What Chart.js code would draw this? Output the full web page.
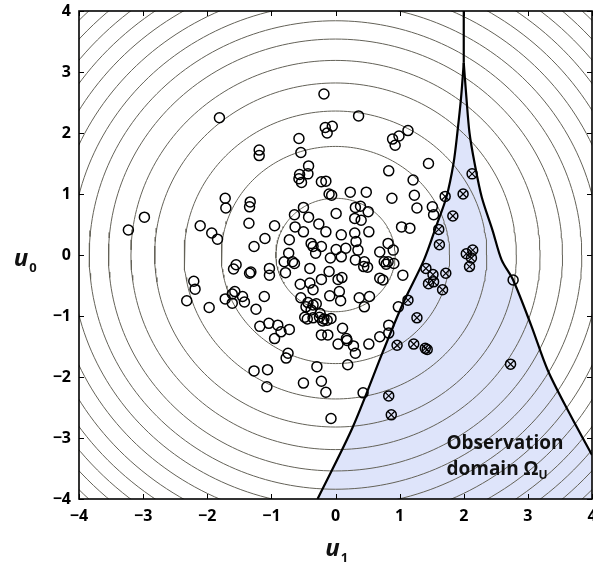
<!DOCTYPE html>
<html>
<head>
<meta charset="utf-8">
<script src="https://cdn.jsdelivr.net/npm/chart.js@4.4.0/dist/chart.umd.min.js"></script>
<style>
  html, body { margin: 0; padding: 0; background: #fff; }
</style>
</head>
<body>
<canvas id="chart" width="593" height="569"></canvas>
<script>
// axis ticks (both axes)
const tickValues = [-4, -3, -2, -1, 0, 1, 2, 3, 4];

// radii of the density contours (data units)
const contourRadii = [0.93, 1.78, 2.36, 2.82, 3.19, 3.54, 3.84, 4.12, 4.39, 4.65, 4.89, 5.12, 5.34, 5.55];

// samples outside the observation domain [u1, u0]
const samples = [
  [-0.18,2.64],[-1.81,2.25],[0.36,2.28],[-0.16,2.09],[-0.05,2.11],[-0.13,2.0],[-0.57,1.91],
  [0.89,1.90],[0.99,1.95],[1.13,2.04],[0.93,1.80],[-1.19,1.72],[-1.19,1.63],[-0.54,1.68],
  [1.45,1.50],[-0.42,1.46],[0.83,1.38],[-0.56,1.32],[-0.43,1.33],[-0.53,1.19],[-0.57,1.25],
  [1.21,1.23],[-0.22,1.20],[-0.15,1.21],[-0.10,1.00],[-0.06,0.98],[0.23,1.03],[0.48,1.03],
  [0.88,0.93],[1.23,0.98],[-1.72,0.93],[-1.71,0.77],[-1.33,0.87],[-1.34,0.79],[1.27,0.77],
  [1.51,0.79],[1.53,0.66],[-0.50,0.78],[-0.64,0.66],[-0.42,0.62],[0.01,0.68],[0.31,0.78],
  [0.30,0.60],[0.39,0.80],[0.51,0.71],[0.40,0.57],[-1.35,0.52],[-0.95,0.48],[-1.10,0.27],
  [-1.27,0.14],[-2.11,0.48],[-1.93,0.36],[-1.84,0.26],[-2.98,0.62],[-3.23,0.41],[-0.63,0.46],
  [-0.50,0.38],[-0.26,0.51],[-0.15,0.38],[0.09,0.33],[0.30,0.36],[0.52,0.38],[1.03,0.46],
  [1.16,0.44],[-0.72,0.25],[-0.38,0.19],[-0.35,0.14],[-0.22,0.14],[-0.31,0.03],[0.01,0.09],
  [0.16,0.11],[0.35,0.08],[0.32,0.22],[0.69,0.05],[0.82,0.19],[0.90,0.08],[-0.73,0.03],
  [-0.80,-0.11],[-0.67,-0.11],[-0.64,-0.14],[-0.78,-0.29],[-0.08,-0.05],[0.09,-0.03],[0.31,-0.08],
  [0.45,-0.11],[0.44,-0.19],[0.50,-0.20],[0.76,-0.11],[0.79,-0.15],[0.82,-0.11],[0.91,-0.14],
  [-0.40,-0.22],[-0.10,-0.27],[-0.22,-0.40],[0.04,-0.40],[0.10,-0.37],[0.69,-0.38],[0.74,-0.41],
  [1.05,-0.33],[-1.59,-0.23],[-1.55,-0.16],[-1.34,-0.30],[-1.32,-0.28],[-1.03,-0.22],[-1.03,-0.33],
  [-0.55,-0.48],[-0.40,-0.46],[-0.35,-0.57],[-0.09,-0.67],[0.06,-0.60],[0.08,-0.75],[-0.54,-0.70],
  [0.37,-0.70],[0.53,-0.68],[0.45,-0.85],[-0.46,-0.85],[-0.35,-0.82],[-0.38,-0.90],[-0.43,-0.78],
  [-0.30,-0.80],[0.98,-0.85],[-1.11,-0.68],[-1.45,-0.68],[-1.42,-0.77],[-1.24,-0.89],[-1.72,-0.72],
  [-1.61,-0.79],[-1.57,-0.60],[-1.61,-0.64],[-2.21,-0.43],[-2.19,-0.56],[-2.32,-0.75],[-1.97,-0.86],
  [-1.18,-1.17],[-1.04,-1.12],[-0.90,-1.15],[-0.85,-1.26],[-0.72,-1.22],[-0.95,-1.37],
  [-0.48,-1.02],[-0.44,-1.05],[-0.35,-1.03],[-0.24,-0.96],[-0.25,-1.02],[-0.18,-1.05],[-0.13,-1.07],
  [-0.07,-1.04],[-0.20,-1.08],[-0.22,-1.31],[-0.12,-1.31],[0.11,-1.20],[0.04,-1.46],[-0.74,-1.61],
  [-0.77,-1.69],[-1.27,-1.90],[-1.06,-1.88],[-1.07,-2.16],[-0.29,-1.83],[-0.50,-2.10],[-0.22,-2.07],
  [-0.15,-2.25],[-0.07,-2.68],[0.19,-1.80],[0.43,-2.26],[0.52,-1.46],[0.28,-1.49],[0.31,-1.61],
  [0.17,-1.37],[0.18,-1.40],[0.69,-1.34],[0.83,-1.15],[0.83,-1.28],[2.77,-0.41]
];

// samples inside the observation domain (crossed) [u1, u0]
const observed = [
  [2.13,1.33],[1.99,1.00],[1.71,0.96],[1.83,0.64],[1.61,0.42],[1.62,0.17],[2.04,0.02],
  [2.14,0.08],[2.12,-0.05],[2.09,-0.19],[1.41,-0.22],[1.52,-0.32],[1.72,-0.30],[1.45,-0.47],
  [1.53,-0.44],[1.67,-0.57],[1.13,-0.74],[1.27,-1.03],[0.96,-1.48],[1.22,-1.46],[1.40,-1.53],
  [1.43,-1.55],[2.73,-1.79],[0.83,-2.31],[0.87,-2.62]
];

// observation domain boundary [u1, u0]
const domainLeft = [
  [-0.28,-4],[0.27,-2.82],[0.73,-1.61],[1.05,-0.8],[1.38,-0.08],[1.58,0.5],[1.73,0.95],
  [1.84,1.5],[1.90,2.0],[1.96,2.6],[2.0,3.15]
];
const domainRight = [
  [2.0,3.15],[2.04,2.6],[2.09,2.0],[2.17,1.5],[2.28,0.95],[2.45,0.4],[2.59,-0.08],
  [2.77,-0.41],[3.05,-1.15],[3.31,-1.89],[3.65,-2.6],[4.0,-3.28]
];
const domainStem = [[2.0,3.15],[2.0,4]];

const xy = arr => arr.map(p => ({ x: p[0], y: p[1] }));

// contour line for a given radius
function ring(r) {
  const pts = [];
  for (let i = 0; i <= 240; i++) {
    const a = (i / 240) * Math.PI * 2;
    pts.push({ x: r * Math.cos(a), y: r * Math.sin(a) });
  }
  return pts;
}

const minus = v => (v < 0 ? '\u2212' + Math.abs(v) : String(v));

const datasets = [];

// shaded domain (left edge, cusp doubled, right edge), filled down to u0 = -4
datasets.push({
  type: 'line',
  data: xy(domainLeft.concat(domainRight)),
  borderWidth: 0,
  borderColor: 'rgba(0,0,0,0)',
  backgroundColor: 'rgb(222,228,250)',
  pointRadius: 0,
  tension: 0.3,
  fill: { target: { value: -4 } },
  order: 10
});

contourRadii.forEach(r => {
  datasets.push({
    type: 'line',
    data: ring(r),
    borderColor: 'rgb(100,98,88)',
    borderWidth: 1,
    pointRadius: 0,
    tension: 0,
    fill: false,
    order: 8
  });
});

[domainLeft, domainRight, domainStem].forEach(edge => {
  datasets.push({
    type: 'line',
    data: xy(edge),
    borderColor: '#000',
    borderWidth: 2.2,
    pointRadius: 0,
    tension: 0.3,
    fill: false,
    order: 5
  });
});

datasets.push({
  type: 'scatter',
  data: xy(samples),
  pointStyle: 'circle',
  pointRadius: 5,
  borderColor: '#000',
  backgroundColor: 'rgba(0,0,0,0)',
  borderWidth: 1.5,
  order: 2
});

datasets.push({
  type: 'scatter',
  data: xy(observed),
  pointStyle: 'circle',
  pointRadius: 5,
  borderColor: '#000',
  backgroundColor: 'rgba(0,0,0,0)',
  borderWidth: 1.5,
  order: 1
});
datasets.push({
  type: 'scatter',
  data: xy(observed),
  pointStyle: 'crossRot',
  pointRadius: 5,
  borderColor: '#000',
  borderWidth: 1.2,
  order: 0
});

const decor = {
  id: 'decor',
  afterDatasetsDraw(chart) {
    const { ctx, chartArea: a, scales: { x, y } } = chart;
    ctx.save();
    ctx.strokeStyle = '#000';
    ctx.lineWidth = 1;
    tickValues.forEach(v => {
      const px = Math.round(x.getPixelForValue(v)) + 0.5;
      const py = Math.round(y.getPixelForValue(v)) + 0.5;
      ctx.beginPath();
      ctx.moveTo(px, a.bottom); ctx.lineTo(px, a.bottom - 5);
      ctx.moveTo(px, a.top); ctx.lineTo(px, a.top + 5);
      ctx.moveTo(a.left, py); ctx.lineTo(a.left + 5, py);
      ctx.moveTo(a.right, py); ctx.lineTo(a.right - 5, py);
      ctx.stroke();
    });
    ctx.lineWidth = 1.6;
    ctx.strokeRect(a.left, a.top, a.right - a.left, a.bottom - a.top);

    // domain label
    ctx.fillStyle = '#111';
    ctx.font = 'bold 19px "Open Sans", sans-serif';
    ctx.textBaseline = 'alphabetic';
    ctx.textAlign = 'left';
    const tx = x.getPixelForValue(1.73);
    ctx.fillText('Observation', tx, y.getPixelForValue(-3.18));
    const ly = y.getPixelForValue(-3.6);
    ctx.fillText('domain \u03A9', tx, ly);
    const w = ctx.measureText('domain \u03A9').width;
    ctx.font = 'bold 12px "Open Sans", sans-serif';
    ctx.fillText('U', tx + w, ly + 4);

    // axis titles
    const title = (cx, cy, sub) => {
      ctx.font = 'italic bold 24px "Open Sans", sans-serif';
      const uw = ctx.measureText('u').width;
      ctx.fillText('u', cx - uw / 2 - 3, cy);
      ctx.font = 'bold 13px "Open Sans", sans-serif';
      ctx.fillText(sub, cx + uw / 2 - 2, cy + 6);
    };
    title(x.getPixelForValue(0), 556, '1');
    title(24, y.getPixelForValue(0) + 11, '0');
    ctx.restore();
  }
};

new Chart(document.getElementById('chart'), {
  type: 'scatter',
  data: { datasets },
  options: {
    responsive: false,
    animation: false,
    events: [],
    layout: { autoPadding: false, padding: { top: 11, right: 1, left: 0, bottom: 0 } },
    plugins: { legend: { display: false }, tooltip: { enabled: false } },
    scales: {
      x: {
        type: 'linear', min: -4, max: 4,
        grid: { display: false, drawTicks: false },
        border: { display: false },
        ticks: {
          stepSize: 1, padding: 8, color: '#000',
          font: { family: '"Open Sans", sans-serif', size: 16, weight: 'bold' },
          callback: minus, maxRotation: 0, autoSkip: false
        },
        afterFit(s) { s.height = 70; s.paddingLeft = 0; s.paddingRight = 0; }
      },
      y: {
        type: 'linear', min: -4, max: 4,
        grid: { display: false, drawTicks: false },
        border: { display: false },
        ticks: {
          stepSize: 1, padding: 8, color: '#000',
          font: { family: '"Open Sans", sans-serif', size: 16, weight: 'bold' },
          callback: minus, autoSkip: false
        },
        afterFit(s) { s.width = 79; s.paddingTop = 0; s.paddingBottom = 0; }
      }
    }
  },
  plugins: [decor]
});
</script>
</body>
</html>
